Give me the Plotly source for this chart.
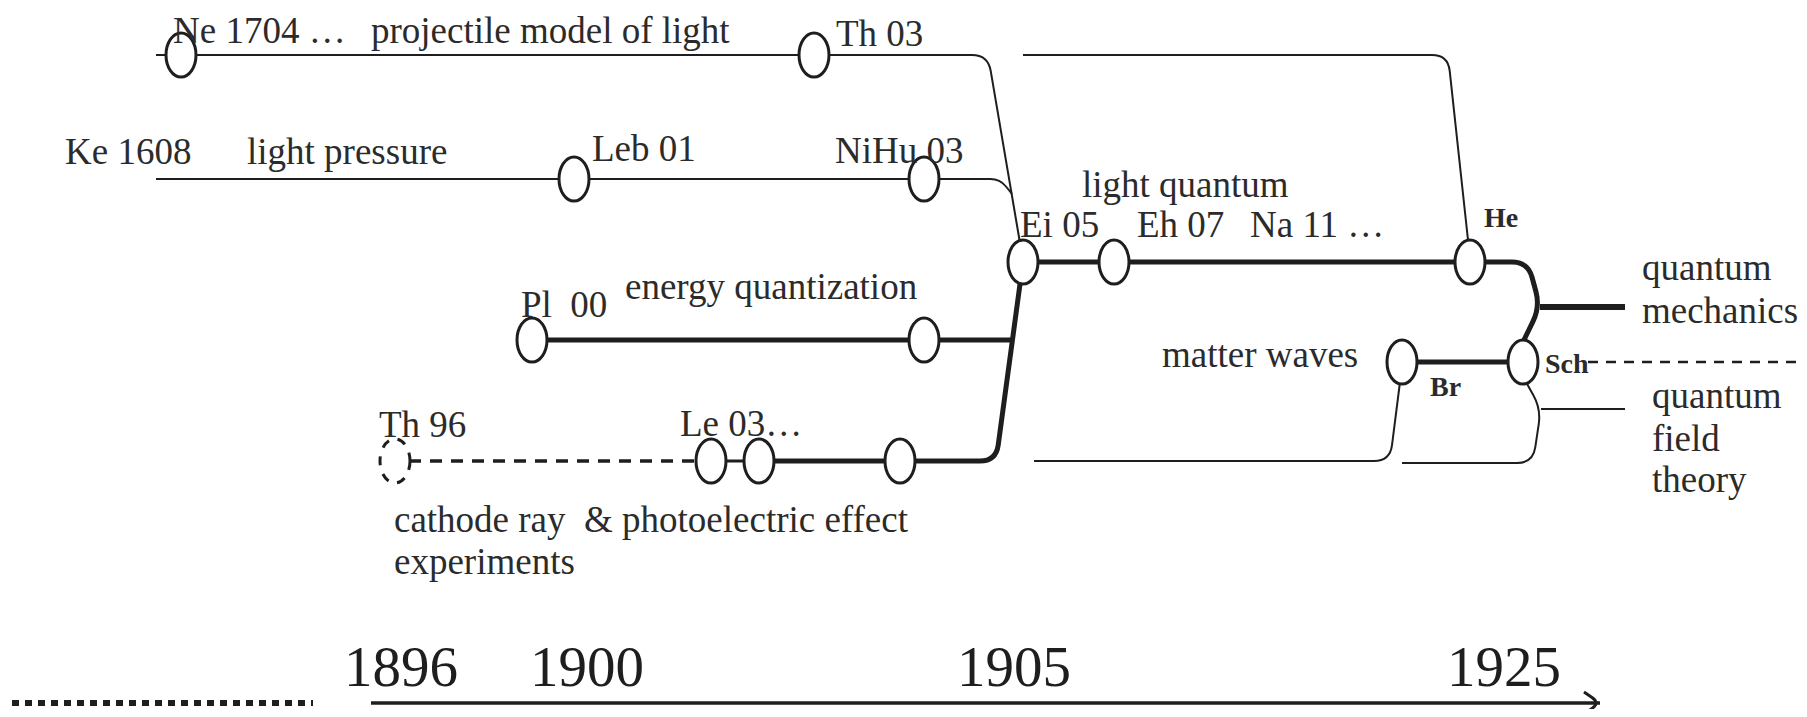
import plotly.graph_objects as go

# Timeline diagram: paths of ideas leading to quantum mechanics.
# Everything is laid out on a page-sized coordinate grid (x right, y down).

W, H = 1807, 717
PAD = 8  # default body margin of the html page

# events (nodes)
node_names = ["Ne 1704", "Th 03", "Leb 01", "NiHu 03", "Ei 05", "Eh 07", "He",
              "Pl 00", "Pl b", "Th 96", "Le 03 a", "Le 03 b", "Le c", "Br", "Sch"]
node_x = [181, 814, 574, 924, 1023, 1114, 1470, 532, 924, 395, 711, 759, 900, 1402, 1523]
node_y = [55, 55, 179, 179, 262, 262, 262, 340, 340, 461, 461, 461, 461, 362, 362]
dashed_nodes = ["Th 96"]

# connecting routes: polyline points, line width, dash
routes = [
    ([(156, 55), (988, 55), (1020, 243)], 2, "solid"),
    ([(156, 179), (1000, 179), (1012, 194)], 2, "solid"),
    ([(1023, 55), (1448, 55), (1468, 240)], 2, "solid"),
    ([(1023, 262), (1528, 262), (1540, 307), (1523, 342)], 5, "solid"),
    ([(1540, 307), (1625, 307)], 6, "solid"),
    ([(532, 340), (1012, 340)], 5, "solid"),
    ([(1023, 262), (996, 461), (759, 461)], 5, "solid"),
    ([(409, 461), (711, 461)], 3.5, "12px,9px"),
    ([(711, 461), (759, 461)], 3, "solid"),
    ([(1034, 461), (1390, 461), (1400, 382)], 2, "solid"),
    ([(1402, 463), (1533, 463), (1541, 409), (1526, 382)], 2, "solid"),
    ([(1541, 409), (1625, 409)], 2, "solid"),
    ([(1402, 362), (1523, 362)], 5, "solid"),
    ([(1588, 362), (1797, 362)], 2.5, "10px,8px"),
    ([(12, 703), (313, 703)], 6, "7px,6px"),
    ([(371, 703), (1600, 703)], 3.5, "solid"),
    ([(1584, 692), (1600, 703), (1584, 714)], 3, "solid"),
]

# text labels: text, x (left), y (middle), size, bold
labels = [
    ("Ne 1704 \u2026", 171, 30, 37, False),
    ("projectile model of light", 369, 30, 37, False),
    ("Th 03", 834, 33, 37, False),
    ("Ke 1608", 63, 151, 37, False),
    ("light pressure", 245, 151, 37, False),
    ("Leb 01", 590, 148, 37, False),
    ("NiHu 03", 833, 150, 37, False),
    ("light quantum", 1080, 184, 37, False),
    ("Ei 05", 1018, 224, 37, False),
    ("Eh 07", 1135, 224, 37, False),
    ("Na 11 \u2026", 1248, 224, 37, False),
    ("He", 1482, 217, 28, True),
    ("quantum", 1640, 267, 37, False),
    ("mechanics", 1640, 310, 37, False),
    ("Pl  00", 519, 304, 37, False),
    ("energy quantization", 623, 286, 37, False),
    ("matter waves", 1160, 354, 37, False),
    ("Br", 1428, 386, 28, True),
    ("Sch", 1543, 363, 28, True),
    ("quantum", 1650, 395, 37, False),
    ("field", 1650, 438, 37, False),
    ("theory", 1650, 479, 37, False),
    ("Th 96", 377, 424, 37, False),
    ("Le 03\u2026", 678, 423, 37, False),
    ("cathode ray  & photoelectric effect", 392, 519, 37, False),
    ("experiments", 392, 561, 37, False),
]

# years on the time axis
years = ["1896", "1900", "1905", "1925"]
year_x = [401, 587, 1014, 1504]
year_y = 666


def rounded_path(pts, r=16):
    """Build an SVG path through pts with rounded corners."""
    d = f"M {pts[0][0]},{pts[0][1]}"
    for i in range(1, len(pts) - 1):
        ax, ay = pts[i - 1]
        px, py = pts[i]
        bx, by = pts[i + 1]
        l1 = ((px - ax) ** 2 + (py - ay) ** 2) ** 0.5
        l2 = ((bx - px) ** 2 + (by - py) ** 2) ** 0.5
        rr = min(r, l1 / 2, l2 / 2)
        sx, sy = px - (px - ax) / l1 * rr, py - (py - ay) / l1 * rr
        ex, ey = px + (bx - px) / l2 * rr, py + (by - py) / l2 * rr
        d += f" L {sx:.1f},{sy:.1f} Q {px},{py} {ex:.1f},{ey:.1f}"
    d += f" L {pts[-1][0]},{pts[-1][1]}"
    return d


ink = "#1e1e1e"
shapes = []
for pts, width, dash in routes:
    shapes.append(dict(type="path", path=rounded_path(pts), xref="x", yref="y",
                       line=dict(color=ink, width=width, dash=dash)))

# nodes drawn as ellipses on top of the routes
rx, ry = 15, 22
for name, x, y in zip(node_names, node_x, node_y):
    shapes.append(dict(type="circle", xref="x", yref="y",
                       x0=x - rx, x1=x + rx, y0=y - ry, y1=y + ry,
                       fillcolor="white",
                       line=dict(color=ink, width=3,
                                 dash="dash" if name in dashed_nodes else "solid")))

annotations = []
for text, x, y, size, bold in labels:
    annotations.append(dict(x=x, y=y, text=f"<b>{text}</b>" if bold else text,
                            showarrow=False, xanchor="left", yanchor="middle",
                            font=dict(family="Liberation Serif", size=size, color="#2b2b2b")))
for text, x in zip(years, year_x):
    annotations.append(dict(x=x, y=year_y, text=text, showarrow=False,
                            xanchor="center", yanchor="middle",
                            font=dict(family="Liberation Serif", size=57, color="#1e1e1e")))

fig = go.Figure()
fig.add_trace(go.Scatter(x=node_x, y=node_y, mode="markers", text=node_names,
                         marker=dict(size=1, opacity=0), hoverinfo="text",
                         showlegend=False))
fig.update_layout(
    width=W - 2 * PAD, height=H - 2 * PAD,
    margin=dict(l=0, r=0, t=0, b=0),
    paper_bgcolor="white", plot_bgcolor="white",
    xaxis=dict(range=[PAD, W - PAD], visible=False, fixedrange=True),
    yaxis=dict(range=[H - PAD, PAD], visible=False, fixedrange=True),
    shapes=shapes, annotations=annotations,
)

fig.write_html("out.html")
